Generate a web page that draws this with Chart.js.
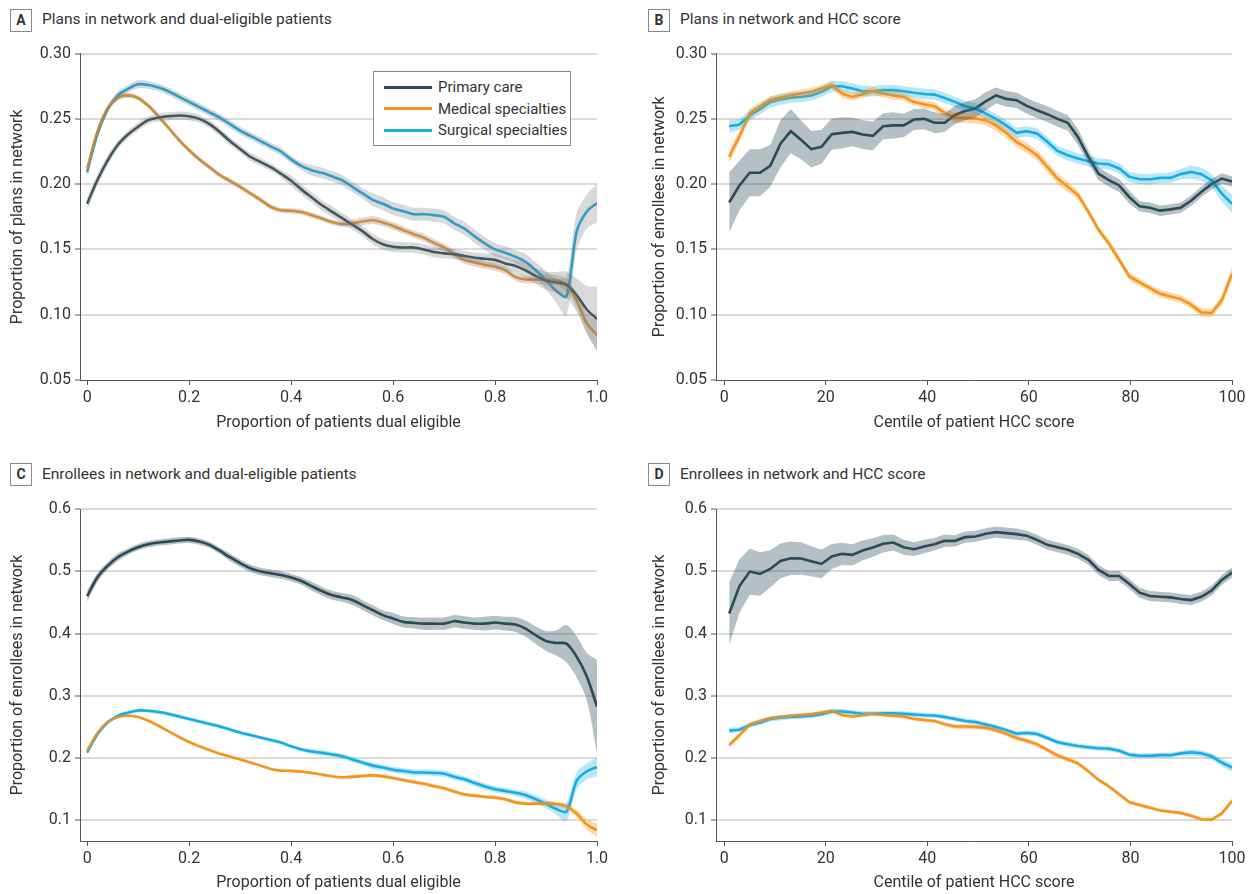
<!DOCTYPE html>
<html>
<head>
<meta charset="utf-8">
<script src="https://cdn.jsdelivr.net/npm/chart.js@4.4.1/dist/chart.umd.min.js"></script>
<style>
  body { margin: 0; background: #fff; }
  #page { position: relative; width: 1253px; height: 894px; font-family: 'Liberation Sans Narrow', 'Roboto', sans-serif; color: #333; }
  .tag { position: absolute; width: 20px; height: 21px; border: 1px solid #8a8a8a; font-weight: bold; font-size: 14px; line-height: 21px; text-align: center; }
  .ttl { position: absolute; font-size: 15.5px; line-height: 22px; white-space: nowrap; }
  canvas { position: absolute; }
  #legend { position: absolute; left: 373px; top: 71px; width: 196px; height: 73px; border: 1px solid #888; background: #fff; font-size: 15px; }
  #legend div { position: absolute; left: 10px; height: 21px; line-height: 21px; white-space: nowrap; }
  #legend span { display: inline-block; width: 48px; height: 3px; vertical-align: middle; margin-right: 6px; position: relative; top: -1px; }
</style>
</head>
<body>
<div id="page">
  <div class="tag" style="left:10px;top:9px">A</div>
  <div class="ttl" style="left:42px;top:8px">Plans in network and dual-eligible patients</div>
  <div class="tag" style="left:648px;top:9px">B</div>
  <div class="ttl" style="left:680px;top:8px">Plans in network and HCC score</div>
  <div class="tag" style="left:10px;top:463px">C</div>
  <div class="ttl" style="left:42px;top:463px">Enrollees in network and dual-eligible patients</div>
  <div class="tag" style="left:648px;top:463px">D</div>
  <div class="ttl" style="left:680px;top:463px">Enrollees in network and HCC score</div>

  <canvas id="ca" width="626" height="400" style="left:0;top:40px"></canvas>
  <canvas id="cb" width="611" height="400" style="left:642px;top:40px"></canvas>
  <canvas id="cc" width="626" height="399" style="left:0;top:495px"></canvas>
  <canvas id="cd" width="611" height="399" style="left:642px;top:495px"></canvas>
  <div id="legend"></div>
</div>
<script>
// series
const seriesNames = ['Primary care', 'Medical specialties', 'Surgical specialties'];
const seriesColors = ['#2b4b58', '#f7941d', '#16ace6'];
const bandColors = ['rgba(43,75,88,0.35)', 'rgba(247,148,29,0.35)', 'rgba(22,172,230,0.3)'];
const grayBand = 'rgba(120,120,120,0.28)';

// x values: proportion dual eligible (A, C) and HCC centile (B, D)
const xDual = [0,0.02,0.04,0.06,0.08,0.1,0.12,0.14,0.16,0.18,0.2,0.22,0.24,0.26,0.28,0.3,0.32,0.34,0.36,0.38,
  0.4,0.42,0.44,0.46,0.48,0.5,0.52,0.54,0.56,0.58,0.6,0.62,0.64,0.66,0.68,0.7,0.72,0.74,0.76,0.78,
  0.8,0.82,0.84,0.86,0.88,0.9,0.92,0.94,0.96,0.98,1];
const xHcc = [1,3.02,5.04,7.06,9.08,11.1,13.12,15.14,17.16,19.18,21.2,23.22,25.24,27.27,29.29,31.31,33.33,35.35,37.37,39.39,
  41.41,43.43,45.45,47.47,49.49,51.51,53.53,55.55,57.57,59.59,61.61,63.63,65.65,67.67,69.69,71.71,73.73,75.76,77.78,79.8,
  81.82,83.84,85.86,87.88,89.9,91.92,93.94,95.96,97.98,100];

// A: plans in network vs dual eligible
const planDualPrimary = [0.185,0.203,0.218,0.230,0.238,0.244,0.249,0.251,0.252,0.2526,
  0.252,0.250,0.246,0.240,0.233,0.227,0.221,0.217,0.213,0.208,
  0.2026,0.196,0.190,0.184,0.179,0.174,0.169,0.164,0.158,0.154,
  0.152,0.1515,0.1515,0.150,0.148,0.147,0.1464,0.145,0.1436,0.1429,
  0.142,0.1393,0.1373,0.134,0.1296,0.126,0.1247,0.123,0.115,0.104,0.0967];
const planDualPrimaryErr = [0.005,0.004,0.004,0.003,0.003,0.003,0.003,0.003,0.003,0.003,
  0.003,0.003,0.003,0.003,0.003,0.003,0.003,0.003,0.003,0.003,
  0.004,0.004,0.004,0.004,0.004,0.004,0.004,0.004,0.004,0.004,
  0.004,0.004,0.004,0.004,0.004,0.004,0.004,0.004,0.004,0.004,
  0.005,0.005,0.005,0.006,0.006,0.007,0.008,0.010,0.013,0.018,0.025];
const dualMedical = [0.212,0.240,0.258,0.266,0.268,0.266,0.260,0.252,0.243,0.234,
  0.226,0.219,0.213,0.207,0.2026,0.198,0.193,0.188,0.1827,0.180,
  0.1796,0.1786,0.1763,0.1737,0.171,0.1694,0.170,0.1714,0.1724,0.1707,
  0.168,0.1648,0.1617,0.159,0.155,0.1515,0.1464,0.142,0.140,0.138,
  0.1367,0.134,0.129,0.127,0.127,0.127,0.1265,0.1227,0.111,0.0934,0.0844];
const dualMedicalErr = [0.003,0.003,0.002,0.002,0.002,0.002,0.002,0.002,0.002,0.002,
  0.002,0.002,0.002,0.002,0.002,0.002,0.002,0.002,0.002,0.002,
  0.002,0.002,0.002,0.002,0.002,0.002,0.003,0.003,0.003,0.003,
  0.003,0.003,0.003,0.003,0.003,0.003,0.003,0.003,0.003,0.003,
  0.003,0.003,0.003,0.003,0.003,0.004,0.004,0.005,0.006,0.008,0.011];
const dualSurgical = [0.209,0.238,0.257,0.268,0.273,0.2765,0.276,0.274,0.271,0.267,
  0.263,0.259,0.255,0.251,0.246,0.241,0.237,0.233,0.229,0.225,
  0.219,0.214,0.2107,0.2087,0.206,0.203,0.198,0.193,0.188,0.185,
  0.1814,0.1793,0.177,0.177,0.1763,0.175,0.170,0.166,0.160,0.1546,
  0.150,0.1474,0.1444,0.1406,0.134,0.1265,0.1184,0.114,0.1635,0.179,0.1856];
const dualSurgicalErr = [0.003,0.003,0.003,0.003,0.003,0.003,0.003,0.003,0.003,0.003,
  0.003,0.003,0.003,0.003,0.003,0.003,0.003,0.003,0.003,0.003,
  0.003,0.003,0.004,0.004,0.004,0.004,0.004,0.004,0.005,0.005,
  0.005,0.005,0.005,0.005,0.005,0.005,0.005,0.005,0.005,0.005,
  0.005,0.005,0.005,0.006,0.006,0.007,0.009,0.015,0.014,0.013,0.015];

// C: enrollees in network vs dual eligible (medical / surgical shared with A)
const enrDualPrimary = [0.460,0.490,0.5086,0.5226,0.5317,0.5387,0.5435,0.5462,0.5478,0.5495,
  0.5505,0.5478,0.5425,0.533,0.5226,0.513,0.5048,0.4995,0.4968,0.494,
  0.490,0.4844,0.4763,0.4683,0.4618,0.458,0.4538,0.4457,0.4376,0.4296,
  0.4242,0.4188,0.4172,0.416,0.416,0.416,0.4199,0.4177,0.416,0.416,
  0.4177,0.416,0.4145,0.408,0.3973,0.3882,0.385,0.3839,0.363,0.331,0.283];
const enrDualPrimaryErr = [0.009,0.007,0.006,0.006,0.005,0.005,0.005,0.005,0.005,0.005,
  0.005,0.005,0.005,0.005,0.006,0.006,0.006,0.006,0.006,0.006,
  0.006,0.006,0.007,0.007,0.007,0.007,0.008,0.008,0.008,0.008,
  0.009,0.009,0.009,0.010,0.010,0.010,0.010,0.010,0.010,0.011,
  0.011,0.011,0.012,0.013,0.014,0.016,0.020,0.030,0.033,0.038,0.075];

// B: plans in network vs HCC centile
const planHccPrimary = [0.186,0.199,0.2087,0.2087,0.214,0.231,0.2406,0.234,0.2268,0.2286,
  0.2383,0.2393,0.240,0.238,0.237,0.2444,0.245,0.245,0.2495,0.250,
  0.247,0.247,0.253,0.256,0.258,0.2635,0.268,0.2653,0.2643,0.260,
  0.2566,0.2536,0.250,0.247,0.236,0.221,0.208,0.203,0.199,0.190,
  0.183,0.182,0.1797,0.1807,0.182,0.1873,0.194,0.200,0.2043,0.202];
const planHccPrimaryErr = [0.023,0.019,0.018,0.018,0.016,0.018,0.017,0.015,0.014,0.013,
  0.012,0.012,0.011,0.011,0.011,0.010,0.010,0.009,0.008,0.008,
  0.008,0.007,0.007,0.007,0.007,0.007,0.006,0.006,0.006,0.006,
  0.006,0.006,0.006,0.006,0.006,0.005,0.005,0.005,0.005,0.005,
  0.004,0.004,0.004,0.004,0.004,0.004,0.004,0.004,0.004,0.004];
const hccMedical = [0.221,0.2367,0.254,0.2597,0.2643,0.2663,0.268,0.2694,0.2707,0.2732,
  0.2758,0.2694,0.2668,0.2689,0.2714,0.2694,0.268,0.2668,0.263,0.2612,
  0.2597,0.2546,0.2508,0.2508,0.2502,0.249,0.245,0.2393,0.2324,0.2278,
  0.2222,0.2133,0.2043,0.198,0.1916,0.179,0.165,0.1546,0.142,0.1293,
  0.1247,0.1204,0.1161,0.114,0.112,0.1077,0.1018,0.1013,0.111,0.1313];
const hccMedicalErr = [0.005,0.004,0.004,0.003,0.003,0.003,0.003,0.003,0.003,0.003,
  0.003,0.003,0.003,0.003,0.003,0.003,0.003,0.003,0.003,0.003,
  0.003,0.003,0.004,0.004,0.004,0.004,0.004,0.004,0.004,0.004,
  0.004,0.004,0.004,0.004,0.003,0.003,0.003,0.003,0.003,0.003,
  0.003,0.003,0.003,0.003,0.003,0.003,0.003,0.003,0.004,0.005];
const hccSurgical = [0.2444,0.2457,0.2528,0.2574,0.263,0.2648,0.2663,0.2668,0.268,0.2707,
  0.275,0.275,0.2732,0.2712,0.2712,0.272,0.272,0.2712,0.270,0.269,
  0.2686,0.266,0.263,0.2597,0.258,0.254,0.250,0.245,0.2393,0.2406,
  0.2388,0.2324,0.2255,0.2222,0.2196,0.2176,0.2158,0.2153,0.212,0.2056,
  0.2038,0.2038,0.2048,0.2048,0.2077,0.2094,0.2077,0.203,0.193,0.185];
const hccSurgicalErr = [0.005,0.004,0.004,0.004,0.004,0.004,0.004,0.004,0.004,0.004,
  0.004,0.004,0.004,0.004,0.004,0.004,0.004,0.004,0.004,0.004,
  0.004,0.004,0.004,0.004,0.004,0.004,0.004,0.004,0.004,0.004,
  0.004,0.004,0.004,0.004,0.004,0.004,0.004,0.004,0.004,0.004,
  0.004,0.004,0.004,0.004,0.004,0.005,0.005,0.005,0.006,0.007];

// D: enrollees in network vs HCC centile (medical / surgical shared with B)
const enrHccPrimary = [0.4323,0.4763,0.4995,0.4957,0.5038,0.5167,0.521,0.5205,0.5161,0.5118,
  0.5237,0.528,0.5263,0.5333,0.5382,0.5441,0.5462,0.5387,0.5355,0.5398,
  0.5435,0.5489,0.5489,0.5548,0.5559,0.5602,0.5629,0.5613,0.5597,0.557,
  0.5505,0.5425,0.5387,0.5344,0.528,0.5183,0.5022,0.4925,0.4925,0.4796,
  0.4656,0.4602,0.4591,0.4581,0.4554,0.4538,0.4591,0.4688,0.486,0.498];
const enrHccPrimaryErr = [0.050,0.043,0.037,0.035,0.030,0.028,0.027,0.026,0.024,0.023,
  0.020,0.018,0.017,0.016,0.015,0.014,0.013,0.012,0.011,0.011,
  0.010,0.010,0.009,0.009,0.009,0.009,0.009,0.009,0.009,0.008,
  0.008,0.008,0.008,0.008,0.008,0.008,0.008,0.008,0.008,0.008,
  0.008,0.008,0.008,0.008,0.008,0.008,0.008,0.008,0.008,0.008];

// ticks
const dualTicks = [0, 0.2, 0.4, 0.6, 0.8, 1.0];
const dualTickLabels = ['0', '0.2', '0.4', '0.6', '0.8', '1.0'];
const hccTicks = [0, 20, 40, 60, 80, 100];
const hccTickLabels = ['0', '20', '40', '60', '80', '100'];
const planTicks = [0.05, 0.10, 0.15, 0.20, 0.25, 0.30];
const planTickLabels = ['0.05', '0.10', '0.15', '0.20', '0.25', '0.30'];
const enrTicks = [0.1, 0.2, 0.3, 0.4, 0.5, 0.6];
const enrTickLabels = ['0.1', '0.2', '0.3', '0.4', '0.5', '0.6'];

const FONT = "'Liberation Sans Narrow', 'Roboto', sans-serif";

// legend
document.getElementById('legend').innerHTML = seriesNames.map((n, i) =>
  '<div style="top:' + (5 + i * 21.5) + 'px"><span style="background:' + seriesColors[i] + '"></span>' + n + '</div>'
).join('');

function pts(xs, ys, off) {
  return ys.map((v, i) => ({ x: xs[i], y: off ? v + off[i] : v }));
}

function makeChart(id, p) {
  const datasets = [];
  p.series.forEach((s, i) => {
    const neg = s.err.map(e => -e);
    datasets.push({ data: pts(p.x, s.y, neg), borderWidth: 0, pointRadius: 0, fill: false, tension: p.tension });
    datasets.push({ data: pts(p.x, s.y, s.err), borderWidth: 0, pointRadius: 0, fill: '-1',
      backgroundColor: p.gray ? grayBand : bandColors[i], tension: p.tension });
  });
  p.series.forEach((s, i) => {
    datasets.push({ data: pts(p.x, s.y), borderColor: seriesColors[i], borderWidth: 2.6,
      pointRadius: 0, fill: false, tension: p.tension });
  });

  return new Chart(document.getElementById(id).getContext('2d'), {
    type: 'line',
    data: { datasets: datasets },
    options: {
      responsive: false,
      animation: false,
      events: [],
      layout: { padding: { top: p.padTop, right: p.padRight, bottom: 0, left: 0 } },
      plugins: { legend: { display: false }, tooltip: { enabled: false } },
      scales: {
        x: {
          type: 'linear', min: p.xMin, max: p.xMax,
          afterBuildTicks: s => { s.ticks = p.xTicks.map(v => ({ value: v })); },
          afterFit: s => { s.height = p.xHeight; },
          grid: { drawOnChartArea: false, tickLength: 5, tickColor: '#555', tickWidth: 1 },
          border: { color: '#555', width: 1 },
          ticks: { callback: (v, i) => p.xTickLabels[i], color: '#333', font: { family: FONT, size: 16 },
            padding: 3, maxRotation: 0, autoSkip: false },
          title: { display: true, text: p.xTitle, color: '#333', font: { family: FONT, size: 16 },
            padding: { top: 0, bottom: p.xTitlePad } }
        },
        y: {
          type: 'linear', min: p.yMin, max: p.yMax,
          afterBuildTicks: s => { s.ticks = p.yTicks.map(v => ({ value: v })); },
          afterFit: s => { s.width = p.yWidth; },
          grid: {
            color: c => (c.tick && Math.abs(c.tick.value - p.yMin) < 1e-9) ? 'rgba(0,0,0,0)' : '#dadada',
            lineWidth: 2, tickLength: 5, tickColor: '#555', tickWidth: 1
          },
          border: { color: '#555', width: 1 },
          ticks: { callback: (v, i) => p.yTickLabels[i], color: '#333', font: { family: FONT, size: 16 }, padding: 4 },
          title: { display: true, text: p.yTitle, color: '#333', font: { family: FONT, size: 16 },
            padding: { top: 8, bottom: 0 } }
        }
      }
    }
  });
}

const chartA = makeChart('ca', {
  x: xDual, tension: 0.3, gray: true,
  series: [
    { y: planDualPrimary, err: planDualPrimaryErr },
    { y: dualMedical, err: dualMedicalErr },
    { y: dualSurgical, err: dualSurgicalErr }
  ],
  xMin: -0.014, xMax: 1, xTicks: dualTicks, xTickLabels: dualTickLabels,
  yMin: 0.05, yMax: 0.30, yTicks: planTicks, yTickLabels: planTickLabels,
  xTitle: 'Proportion of patients dual eligible', yTitle: 'Proportion of plans in network',
  padTop: 13, padRight: 29, yWidth: 80, xHeight: 60, xTitlePad: 7
});

const chartB = makeChart('cb', {
  x: xHcc, tension: 0,
  series: [
    { y: planHccPrimary, err: planHccPrimaryErr },
    { y: hccMedical, err: hccMedicalErr },
    { y: hccSurgical, err: hccSurgicalErr }
  ],
  xMin: -1.6, xMax: 100, xTicks: hccTicks, xTickLabels: hccTickLabels,
  yMin: 0.05, yMax: 0.30, yTicks: planTicks, yTickLabels: planTickLabels,
  xTitle: 'Centile of patient HCC score', yTitle: 'Proportion of enrollees in network',
  padTop: 13, padRight: 21, yWidth: 74, xHeight: 60, xTitlePad: 7
});

const chartC = makeChart('cc', {
  x: xDual, tension: 0.3,
  series: [
    { y: enrDualPrimary, err: enrDualPrimaryErr },
    { y: dualMedical, err: dualMedicalErr },
    { y: dualSurgical, err: dualSurgicalErr }
  ],
  xMin: -0.014, xMax: 1, xTicks: dualTicks, xTickLabels: dualTickLabels,
  yMin: 0.067, yMax: 0.6, yTicks: enrTicks, yTickLabels: enrTickLabels,
  xTitle: 'Proportion of patients dual eligible', yTitle: 'Proportion of enrollees in network',
  padTop: 14, padRight: 29, yWidth: 80, xHeight: 53, xTitlePad: 1
});

const chartD = makeChart('cd', {
  x: xHcc, tension: 0,
  series: [
    { y: enrHccPrimary, err: enrHccPrimaryErr },
    { y: hccMedical, err: hccMedicalErr },
    { y: hccSurgical, err: hccSurgicalErr }
  ],
  xMin: -1.6, xMax: 100, xTicks: hccTicks, xTickLabels: hccTickLabels,
  yMin: 0.067, yMax: 0.6, yTicks: enrTicks, yTickLabels: enrTickLabels,
  xTitle: 'Centile of patient HCC score', yTitle: 'Proportion of enrollees in network',
  padTop: 14, padRight: 21, yWidth: 74, xHeight: 53, xTitlePad: 1
});
</script>
</body>
</html>
